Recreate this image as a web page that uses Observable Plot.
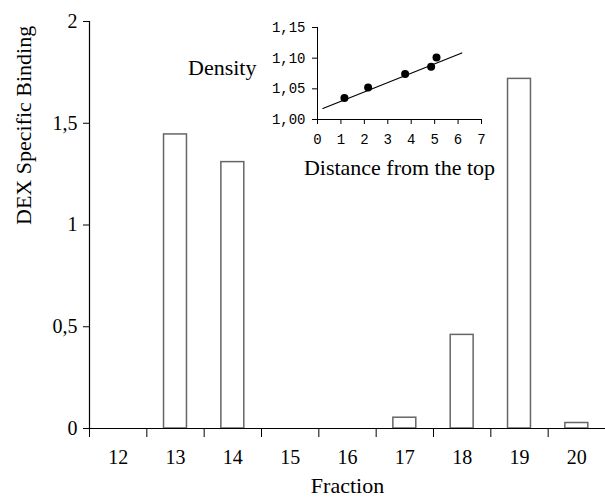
<!DOCTYPE html>
<html>
<head>
<meta charset="utf-8">
<script src="https://cdn.jsdelivr.net/npm/d3@7"></script>
<script src="https://cdn.jsdelivr.net/npm/@observablehq/plot@0.6"></script>
<style>
  body { margin: 0; background: #fff; }
  #wrap { position: relative; width: 605px; height: 497px; }
  #wrap svg { position: absolute; left: 0; top: 0; background: transparent; }
</style>
</head>
<body>
<div id="wrap"></div>
<script>
// Main chart data
const fractions = [12, 13, 14, 15, 16, 17, 18, 19, 20];
const binding = [0, 1.445, 1.309, 0, 0, 0.053, 0.46, 1.718, 0.027];
const yTicks = [0, 0.5, 1, 1.5, 2];

// Inset data
const distance = [1.15, 2.16, 3.74, 4.85, 5.08];
const density = [1.035, 1.052, 1.074, 1.086, 1.101];
const fitX = [0.23, 6.16];
const fitY = [1.018, 1.1085];
const insetXTicks = [0, 1, 2, 3, 4, 5, 6, 7];
const insetYTicks = [1.00, 1.05, 1.10, 1.15];

const SERIF = "'Liberation Serif', 'Times New Roman', serif";
const MONO = "'Liberation Mono', 'Courier New', monospace";

const bars = fractions.map((f, i) => ({f, v: binding[i]}));
const boundaries = d3.range(11.5, 20, 1);
const comma = s => String(s).replace(".", ",");

const main = Plot.plot({
  width: 605,
  height: 497,
  marginLeft: 89,
  marginRight: 0,
  marginTop: 21,
  marginBottom: 69,
  style: {fontFamily: SERIF, background: "transparent", color: "#000"},
  x: {domain: [11.5, 20.5]},
  y: {domain: [0, 2]},
  marks: [
    Plot.rectY(bars.filter(d => d.v > 0), {
      x1: d => d.f - 0.2, x2: d => d.f + 0.2, y1: 0, y2: "v",
      fill: "white", stroke: "#666", strokeWidth: 1.5
    }),
    Plot.axisY({ticks: yTicks, tickFormat: d => comma(d), tickSize: 6, tickPadding: 6,
      fontSize: 20, fontFamily: SERIF, label: null, stroke: "#000"}),
    Plot.axisX({ticks: boundaries, tickFormat: () => "", tickSize: 9, label: null, stroke: "#000"}),
    Plot.axisX({ticks: fractions, tickFormat: d => String(d), tickSize: 0, tickPadding: 21,
      fontSize: 20, fontFamily: SERIF, label: null}),
    Plot.ruleY([0], {stroke: "#000", strokeWidth: 1.2}),
    Plot.ruleX([11.5], {stroke: "#000", strokeWidth: 1.2}),
    Plot.text(["Fraction"], {frameAnchor: "bottom", dy: 57, fontSize: 22, fontFamily: SERIF, lineAnchor: "middle"}),
    Plot.text(["DEX Specific Binding"], {frameAnchor: "left", dx: -66, rotate: -90, fontSize: 22,
      fontFamily: SERIF, lineAnchor: "middle"})
  ]
});

const pts = distance.map((x, i) => ({x, y: density[i]}));
const fit = fitX.map((x, i) => ({x, y: fitY[i]}));

const inset = Plot.plot({
  width: 605,
  height: 497,
  marginLeft: 317,
  marginRight: 124,
  marginTop: 27,
  marginBottom: 378,
  style: {fontFamily: SERIF, background: "transparent", color: "#000", overflow: "visible"},
  x: {domain: [0, 7]},
  y: {domain: [1.00, 1.15]},
  marks: [
    Plot.axisY({ticks: insetYTicks, tickFormat: d => d.toFixed(2).replace(".", ","), tickSize: 5,
      tickPadding: 7, fontSize: 14, fontFamily: MONO, label: null}),
    Plot.axisX({ticks: insetXTicks, tickFormat: d => String(d), tickSize: 5, tickPadding: 10, fontSize: 14,
      fontFamily: MONO, label: null}),
    Plot.ruleY([1.00], {stroke: "#000"}),
    Plot.ruleX([0], {stroke: "#000"}),
    Plot.line(fit, {x: "x", y: "y", stroke: "#000", strokeWidth: 1.2}),
    Plot.dot(pts, {x: "x", y: "y", r: 4, fill: "#000"}),
    Plot.text(["Density"], {frameAnchor: "left", dx: -61, dy: -6, textAnchor: "end", fontSize: 22,
      fontFamily: SERIF, lineAnchor: "middle"}),
    Plot.text(["Distance from the top"], {frameAnchor: "bottom", dy: 48, fontSize: 22,
      fontFamily: SERIF, lineAnchor: "middle"})
  ]
});

document.getElementById("wrap").append(main, inset);
</script>
</body>
</html>
